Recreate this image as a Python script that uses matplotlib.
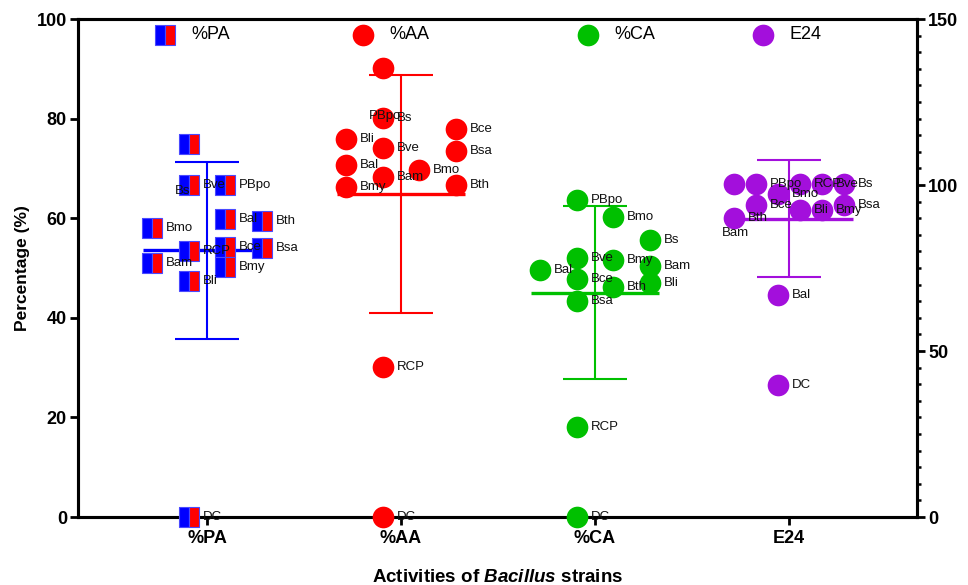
import matplotlib
matplotlib.use("Agg")
import matplotlib.pyplot as plt
import numpy as np
from matplotlib.ticker import MultipleLocator

plt.rcParams["font.family"] = ["Liberation Sans", "DejaVu Sans"]
plt.rcParams["mathtext.fontset"] = "custom"
plt.rcParams["mathtext.it"] = "Liberation Sans:italic:bold"
plt.rcParams["mathtext.rm"] = "Liberation Sans:bold"

# ---- data ----
categories = ["%PA", "%AA", "%CA", "E24"]

pa_names = ["Bs", "Bve", "PBpo", "Bal", "Bth", "Bmo", "Bce", "Bsa", "RCP", "Bam", "Bmy", "Bli", "DC"]
pa_values = [75.0, 66.7, 66.7, 59.8, 59.5, 58.0, 54.2, 54.0, 53.4, 51.0, 50.3, 47.3, 0.0]

aa_names = ["PBpo", "Bs", "Bce", "Bli", "Bve", "Bsa", "Bal", "Bmo", "Bam", "Bth", "Bmy", "RCP", "DC"]
aa_values = [90.1, 80.1, 77.9, 76.0, 74.0, 73.5, 70.7, 69.7, 68.3, 66.7, 66.3, 30.1, 0.0]

ca_names = ["PBpo", "Bmo", "Bs", "Bve", "Bmy", "Bam", "Bal", "Bce", "Bli", "Bth", "Bsa", "RCP", "DC"]
ca_values = [63.7, 60.2, 55.6, 52.1, 51.6, 50.4, 49.7, 47.7, 47.0, 46.1, 43.4, 18.0, 0.0]

# E24 is read on the right axis (0-150)
e24_names = ["Bam", "PBpo", "RCP", "Bve", "Bs", "Bmo", "Bce", "Bsa", "Bli", "Bmy", "Bth", "Bal", "DC"]
e24_values = [100.3, 100.3, 100.3, 100.3, 100.3, 97.3, 94.0, 94.0, 92.5, 92.5, 90.0, 66.9, 39.8]

# ---- layout: scatter slots (beeswarm columns) and slot widths ----
pa_slots = [-0.5, -0.5, 0.5, 0.5, 1.5, -1.5, 0.5, 1.5, -0.5, -1.5, 0.5, -0.5, -0.5]
aa_slots = [-0.5, -0.5, 1.5, -1.5, -0.5, 1.5, -1.5, 0.5, -0.5, 1.5, -1.5, -0.5, -0.5]
ca_slots = [-0.5, 0.5, 1.5, -0.5, 0.5, 1.5, -1.5, -0.5, 1.5, 0.5, -0.5, -0.5, -0.5]
e24_slots = [-2.5, -1.5, 0.5, 1.5, 2.5, -0.5, -1.5, 2.5, 0.5, 1.5, -2.5, -0.5, -0.5]
slot_width = [0.189, 0.189, 0.189, 0.1134]

# labels that sit away from their point (offset in points)
moved_labels = {("%PA", "Bs"): (-10, -34), ("%AA", "PBpo"): (-10, -34), ("E24", "Bam"): (-9, -35)}

colors = ["#0000ff", "#ff0000", "#00c000", "#a30fdc"]

groups = [
    (pa_names, pa_values, pa_slots),
    (aa_names, aa_values, aa_slots),
    (ca_names, ca_values, ca_slots),
    (e24_names, e24_values, e24_slots),
]

fig = plt.figure(figsize=(9.68, 5.85), dpi=100)
ax = fig.add_axes([0.0806, 0.1162, 0.8667, 0.8513])
ax2 = ax.twinx()
ax.set_zorder(ax2.get_zorder() + 1)
ax.patch.set_visible(False)


def marker_style(i):
    if i == 0:
        return dict(marker="s", ms=14.6, mfc=colors[0], mfcalt=colors[1], fillstyle="left",
                    mec="#4a4aff", mew=0.8)
    return dict(marker="o", ms=15.6, mfc=colors[i], mec=colors[i], mew=0)


for i, (names, values, slots) in enumerate(groups):
    target = ax2 if categories[i] == "E24" else ax
    pos = i + 1
    vals = np.array(values)
    xs = pos + np.array(slots) * slot_width[i]
    mean = vals.mean()
    sd = vals.std(ddof=1)

    target.vlines(pos, mean - sd, mean + sd, color=colors[i], lw=1.5, zorder=2)
    target.hlines([mean - sd, mean + sd], pos - 0.165, pos + 0.165, color=colors[i], lw=1.5, zorder=2)
    target.hlines(mean, pos - 0.33, pos + 0.33, color=colors[i], lw=2.4, zorder=2)

    target.plot(xs, vals, ls="none", zorder=3, clip_on=False, **marker_style(i))

    for name, x, v in zip(names, xs, vals):
        off = moved_labels.get((categories[i], name), (10, 0))
        target.annotate(name, (x, v), xytext=off, textcoords="offset points",
                        ha="left", va="center", fontsize=9.5, color="#111111",
                        zorder=4, annotation_clip=False)

# legend across the top
legend_x = [0.1037, 0.3397, 0.6079, 0.8164]
for i, cat in enumerate(categories):
    ax.plot([legend_x[i]], [0.968], ls="none", transform=ax.transAxes, clip_on=False,
            zorder=5, **marker_style(i))
    ax.text(legend_x[i] + 0.032, 0.968, cat, transform=ax.transAxes, ha="left",
            va="center", fontsize=13)

ax.set_xlim(0.335, 4.66)
ax.set_ylim(0, 100)
ax2.set_ylim(0, 150)

ax.set_xticks(range(1, 5))
ax.set_xticklabels(categories, fontweight="bold", fontsize=13)
ax.set_yticks(np.arange(0, 101, 20))
ax2.set_yticks([0, 50, 100, 150])
ax2.yaxis.set_minor_locator(MultipleLocator(5))

for a in (ax, ax2):
    for sp in a.spines.values():
        sp.set_linewidth(2.2)
    a.tick_params(which="major", length=6, width=2.0, labelsize=13, pad=2)
    a.tick_params(which="minor", length=3, width=1.8)
    for lab in a.get_yticklabels():
        lab.set_fontweight("bold")
ax.tick_params(axis="x", pad=3)

ax.set_ylabel("Percentage (%)", fontsize=12.5, fontweight="bold", labelpad=5)
ax.set_xlabel(r"Activities of $\mathit{Bacillus}$ strains", fontsize=13.5,
              fontweight="bold", labelpad=16)

fig.savefig("out.png", dpi=100)
